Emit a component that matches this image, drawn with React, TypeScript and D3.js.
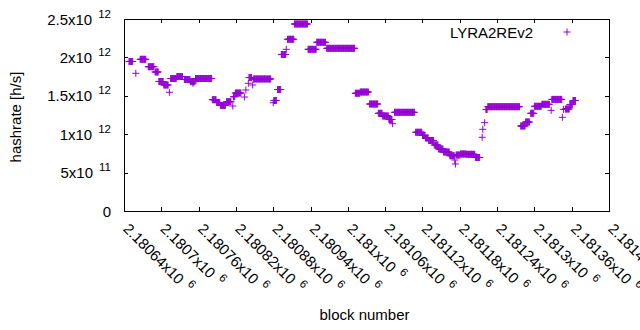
import React, { useEffect, useRef } from 'react';
import * as d3 from 'd3';

// runs of consecutive blocks that report the same hashrate
const runFirst = [
  2180648, 2180659, 2180666, 2180679, 2180690, 2180696, 2180704, 2180713, 2180715, 2180725,
  2180737, 2180747, 2180751, 2180755, 2180782, 2180789, 2180795, 2180805, 2180815, 2180816,
  2180819, 2180834, 2180836, 2180840, 2180841, 2180847, 2180848, 2180880, 2180881, 2180887,
  2180893, 2180901, 2180903, 2180914, 2180936, 2180950, 2180966, 2181012, 2181020, 2181035,
  2181049, 2181056, 2181066, 2181072, 2181075, 2181109, 2181120, 2181125, 2181130, 2181139,
  2181146, 2181154, 2181164, 2181172, 2181173, 2181174, 2181181, 2181191, 2181205, 2181216,
  2181217, 2181220, 2181222, 2181225, 2181278, 2181286, 2181294, 2181300, 2181312, 2181327,
  2181328, 2181345, 2181347, 2181350, 2181357, 2181362,
];
const runLast = [
  2180654, 2180659, 2180675, 2180688, 2180695, 2180703, 2180711, 2180713, 2180724, 2180734,
  2180746, 2180754, 2180751, 2180781, 2180788, 2180794, 2180803, 2180812, 2180815, 2180818,
  2180828, 2180834, 2180836, 2180840, 2180845, 2180847, 2180876, 2180880, 2180885, 2180892,
  2180900, 2180901, 2180913, 2180935, 2180949, 2180964, 2181011, 2181019, 2181033, 2181048,
  2181055, 2181065, 2181071, 2181072, 2181107, 2181119, 2181124, 2181129, 2181138, 2181145,
  2181153, 2181163, 2181171, 2181172, 2181173, 2181180, 2181190, 2181204, 2181212, 2181216,
  2181217, 2181220, 2181224, 2181276, 2181285, 2181292, 2181299, 2181311, 2181324, 2181327,
  2181344, 2181345, 2181347, 2181356, 2181361, 2181366,
];
const runRate = [
  1.947e12, 1.793e12, 1.975e12, 1.879e12, 1.810e12, 1.686e12, 1.641e12, 1.546e12, 1.725e12, 1.751e12,
  1.712e12, 1.684e12, 1.663e12, 1.725e12, 1.449e12, 1.413e12, 1.374e12, 1.423e12, 1.367e12, 1.488e12,
  1.536e12, 1.484e12, 1.576e12, 1.663e12, 1.738e12, 1.641e12, 1.719e12, 1.410e12, 1.439e12, 1.582e12,
  2.038e12, 2.105e12, 2.236e12, 2.435e12, 2.105e12, 2.197e12, 2.118e12, 1.533e12, 1.549e12, 1.393e12,
  1.272e12, 1.237e12, 1.191e12, 1.137e12, 1.285e12, 1.025e12, 0.983e12, 0.951e12, 0.918e12, 0.859e12,
  0.807e12, 0.768e12, 0.720e12, 0.664e12, 0.612e12, 0.729e12, 0.742e12, 0.738e12, 0.697e12, 0.960e12,
  1.064e12, 1.150e12, 1.322e12, 1.358e12, 1.107e12, 1.159e12, 1.272e12, 1.363e12, 1.389e12, 1.311e12,
  1.453e12, 1.220e12, 1.324e12, 1.328e12, 1.387e12, 1.439e12,
];

const xTicks = [
  2180640, 2180700, 2180760, 2180820, 2180880, 2180940, 2181000,
  2181060, 2181120, 2181180, 2181240, 2181300, 2181360, 2181420,
];
const xTickText = [
  '2.18064', '2.1807', '2.18076', '2.18082', '2.18088', '2.18094', '2.181',
  '2.18106', '2.18112', '2.18118', '2.18124', '2.1813', '2.18136', '2.18142',
];
const yTicks = [0, 5e11, 1e12, 1.5e12, 2e12, 2.5e12];
const yTickText = ['0', '5x10', '1x10', '1.5x10', '2x10', '2.5x10'];
const yTickExp = ['', '11', '12', '12', '12', '12'];

const seriesName = 'LYRA2REv2';

const W = 640;
const H = 330;
const left = 124, right = 609, top = 19, bottom = 211;
const purple = '#9400d3';
const font = '"Liberation Sans", Arial, sans-serif';
const plus = 'M-3.5,0H3.5M0,-3.5V3.5';

const App = () => {
  const ref = useRef<SVGSVGElement>(null);

  useEffect(() => {
    const svg = d3.select(ref.current);
    svg.selectAll('*').remove();

    const x = d3.scaleLinear().domain([xTicks[0], xTicks[xTicks.length - 1]]).range([left, right]);
    const y = d3.scaleLinear().domain([0, 2.5e12]).range([bottom, top]);

    const points: { block: number; rate: number }[] = [];
    runFirst.forEach((first, i) => {
      for (let b = first; b <= runLast[i]; b++) points.push({ block: b, rate: runRate[i] });
    });

    // inward ticks on all four sides
    const tickAxes = [
      { gen: d3.axisBottom(x).tickValues(xTicks), t: `translate(0,${bottom})` },
      { gen: d3.axisTop(x).tickValues(xTicks), t: `translate(0,${top})` },
      { gen: d3.axisLeft(y).tickValues(yTicks), t: `translate(${left},0)` },
      { gen: d3.axisRight(y).tickValues(yTicks), t: `translate(${right},0)` },
    ];
    tickAxes.forEach((a) => {
      const g = svg.append('g')
        .attr('transform', a.t)
        .call(a.gen.tickSizeInner(-4).tickSizeOuter(0).tickFormat(() => ''));
      g.select('.domain').remove();
      g.selectAll('line').attr('stroke', '#000').attr('shape-rendering', 'crispEdges');
    });

    svg.append('rect')
      .attr('x', left).attr('y', top)
      .attr('width', right - left).attr('height', bottom - top)
      .attr('fill', 'none').attr('stroke', '#000')
      .attr('shape-rendering', 'crispEdges');

    // y tick labels
    const yl = svg.append('g').attr('font-family', font).attr('font-size', 15).attr('fill', '#000');
    yl.selectAll('text')
      .data(yTicks)
      .enter().append('text')
      .attr('x', 111)
      .attr('y', (d) => y(d) + 5.5)
      .attr('text-anchor', 'end')
      .each(function (d, i) {
        const t = d3.select(this);
        t.append('tspan').text(yTickText[i]);
        if (yTickExp[i]) {
          t.append('tspan').attr('dx', 6).attr('dy', -7).attr('font-size', 11.5).text(yTickExp[i]);
        }
      });

    // x tick labels, rotated
    const xl = svg.append('g').attr('font-family', font).attr('font-size', 15).attr('fill', '#000');
    xl.selectAll('text')
      .data(xTicks)
      .enter().append('text')
      .attr('transform', (d) => `translate(${x(d) + 2},${bottom + 15}) rotate(45)`)
      .attr('dy', '0.35em')
      .each(function (d, i) {
        const t = d3.select(this);
        t.append('tspan').text(xTickText[i] + 'x10');
        t.append('tspan').attr('dx', 6).attr('dy', -7).attr('font-size', 11.5).text('6');
      });

    // axis titles
    svg.append('text')
      .attr('transform', `translate(21,${(top + bottom) / 2 + 2}) rotate(-90)`)
      .attr('text-anchor', 'middle')
      .attr('font-family', font).attr('font-size', 15)
      .text('hashrate [h/s]');
    svg.append('text')
      .attr('x', (left + right) / 2 - 2).attr('y', 320)
      .attr('text-anchor', 'middle')
      .attr('font-family', font).attr('font-size', 15)
      .text('block number');

    // points
    svg.append('g')
      .selectAll('path')
      .data(points)
      .enter().append('path')
      .attr('transform', (d) => `translate(${x(d.block)},${y(d.rate)})`)
      .attr('d', plus)
      .attr('stroke', purple)
      .attr('stroke-width', 1)
      .attr('fill', 'none');

    // legend
    svg.append('text')
      .attr('x', 533).attr('y', 37.5)
      .attr('text-anchor', 'end')
      .attr('font-family', font).attr('font-size', 15)
      .text(seriesName);
    svg.append('path')
      .attr('transform', 'translate(567,32)')
      .attr('d', plus)
      .attr('stroke', purple)
      .attr('fill', 'none');
  }, []);

  return (
    <svg ref={ref} width={W} height={H}
      style={{ position: 'absolute', left: 0, top: 0, background: '#fff' }} />
  );
};

export default App;
